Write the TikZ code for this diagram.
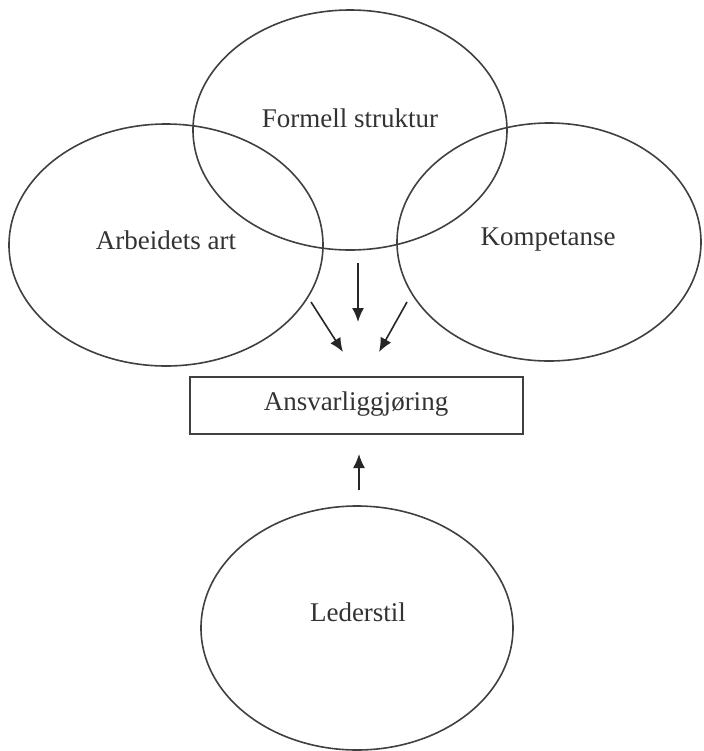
\documentclass[tikz,border=0pt]{standalone}
\usepackage{fontspec}
\setmainfont{Liberation Serif}
\usetikzlibrary{shapes.geometric,arrows.meta}
\begin{document}
\begin{tikzpicture}[x=0.5pt,y=-0.5pt,
  faktor/.style={ellipse, draw=black!75, line width=0.8pt, inner sep=0pt, outer sep=0pt},
  boks/.style={rectangle, draw=black!75, line width=0.8pt, inner sep=0pt, outer sep=0pt},
  tekst/.style={font=\fontsize{13.5}{16}\selectfont, text=black!80},
  pil/.style={draw=black!85, line width=0.8pt, -{Latex[length=7pt,width=6pt]}}]
\useasboundingbox (0,0) rectangle (703,751);
% de fire faktorene
\node [faktor, minimum width=157pt, minimum height=120pt] (formell) at (350,130) {};
\node [faktor, minimum width=157pt, minimum height=121pt] (arbeid) at (166,245) {};
\node [faktor, minimum width=152pt, minimum height=119pt] (kompetanse) at (549,242) {};
\node [faktor, minimum width=156pt, minimum height=122pt] (leder) at (357,628) {};
\node [boks, minimum width=166.5pt, minimum height=28.5pt] (ansvar) at (356.5,405.5) {};
% tekstene
\node [tekst] (formelltxt) at (350,118) {Formell struktur};
\node [tekst] (arbeidtxt) at (166,240) {Arbeidets art};
\node [tekst] (kompetansetxt) at (548,240) {Kompetanse};
\node [tekst] (ansvartxt) at (356,404) {Ansvarliggjøring};
\node [tekst] (ledertxt) at (358,612) {Lederstil};
% pilene
\coordinate (p1a) at (358,263); \coordinate (p1b) at (358,322);
\coordinate (p2a) at (311,302); \coordinate (p2b) at (343,352);
\coordinate (p3a) at (407,302); \coordinate (p3b) at (379,352);
\coordinate (p4a) at (359,490); \coordinate (p4b) at (359,454);
\draw [pil] (p1a) -- (p1b);
\draw [pil] (p2a) -- (p2b);
\draw [pil] (p3a) -- (p3b);
\draw [pil] (p4a) -- (p4b);
\end{tikzpicture}
\end{document}
